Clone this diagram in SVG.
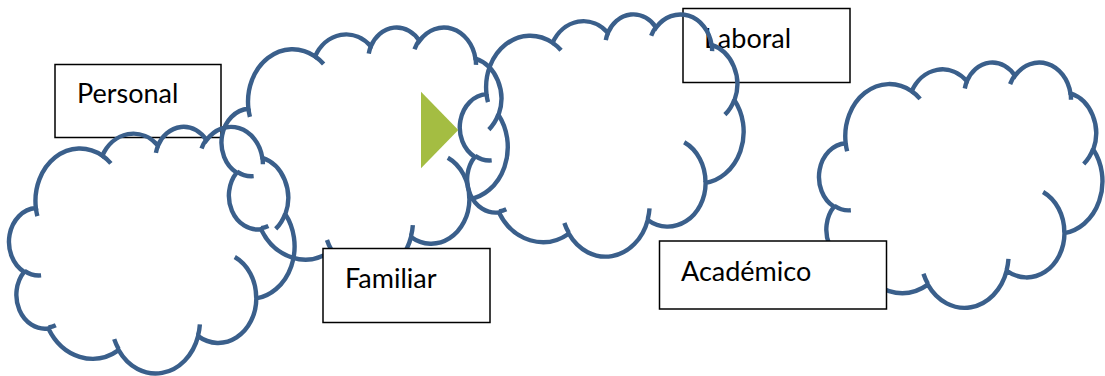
<svg xmlns="http://www.w3.org/2000/svg" xmlns:xlink="http://www.w3.org/1999/xlink" width="1105" height="376" viewBox="0 0 1105 376">
  <style>
    .box { fill: #ffffff; stroke: #000000; stroke-width: 1.5; }
    .label { font-family: Lato, "Liberation Sans", sans-serif; font-size: 27px; fill: #000000; }
    .cloud path { fill: none; stroke: #3A5F8B; stroke-width: 4.4; vector-effect: non-scaling-stroke; }
  </style>
  <defs>
    <!-- cloud outline and inner bump arcs, in a 43200 x 43200 unit frame -->
    <g id="cloud-shape" class="cloud">
      <path d="M3900,14370
               A6753,9190 0 0 1 14005,5202
               A5333,7267 0 0 1 22456,3433
               A4365,5945 0 0 1 29834,2482
               A4857,6595 0 0 1 38318,5578
               A5333,7273 0 0 1 41819,15462
               A6775,9220 0 0 1 37404,30204
               A5785,7867 0 0 1 28556,36815
               A6752,9215 0 0 1 16481,39268
               A7720,10543 0 0 1 5804,35473
               A4360,5918 0 0 1 2113,25551
               A4345,5945 0 0 1 3900,14370 Z"/>
      <path d="M4693,26177 A4345,5945 0 0 1 2159,25379
               M6928,34899 A4360,5918 0 0 1 5820,35280
               M16478,39090 A6752,9215 0 0 1 15809,37347
               M28827,34751 A6752,9215 0 0 1 28560,36660
               M34129,22954 A5785,7867 0 0 1 37380,30089
               M41798,15354 A5333,7273 0 0 1 40349,18030
               M38324,5426 A4857,6595 0 0 1 38400,6690
               M29078,3952 A4857,6595 0 0 1 29821,2337
               M22141,4720 A4365,5945 0 0 1 22500,3331
               M14000,5192 A6753,9190 0 0 1 15300,6540
               M4127,15789 A6753,9190 0 0 1 3900,14370"/>
    </g>
  </defs>

  <!-- label boxes that sit underneath the clouds -->
  <g id="personal">
    <rect class="box" x="55" y="64.5" width="166" height="73"/>
    <text class="label" x="77" y="102.5">Personal</text>
  </g>
  <g id="laboral">
    <rect class="box" x="683" y="8.5" width="167" height="74"/>
    <text class="label" x="704" y="47.5">Laboral</text>
  </g>

  <!-- clouds -->
  <g id="cloud-personal">
    <use xlink:href="#cloud-shape" href="#cloud-shape" transform="translate(10.2,126) scale(0.00658,0.005708)"/>
  </g>
  <g id="cloud-familiar">
    <use xlink:href="#cloud-shape" href="#cloud-shape" transform="translate(222.7,26.7) scale(0.006596,0.00571)"/>
  </g>
  <g id="cloud-laboral">
    <use xlink:href="#cloud-shape" href="#cloud-shape" transform="translate(461,13.6) scale(0.00654,0.005605)"/>
  </g>
  <g id="cloud-academico">
    <use xlink:href="#cloud-shape" href="#cloud-shape" transform="translate(820.2,61.7) scale(0.006531,0.005676)"/>
  </g>

  <!-- label boxes drawn on top of the clouds -->
  <g id="familiar">
    <rect class="box" x="323" y="248.5" width="167" height="74"/>
    <text class="label" x="345" y="288">Familiar</text>
  </g>
  <g id="academico">
    <rect class="box" x="659.5" y="241" width="227" height="68"/>
    <text class="label" x="681" y="280.5">Académico</text>
  </g>

  <g id="connectors">
    <polygon points="421,91.7 458.3,130 421,168.3" fill="#A4BD42"/>
  </g>
</svg>
